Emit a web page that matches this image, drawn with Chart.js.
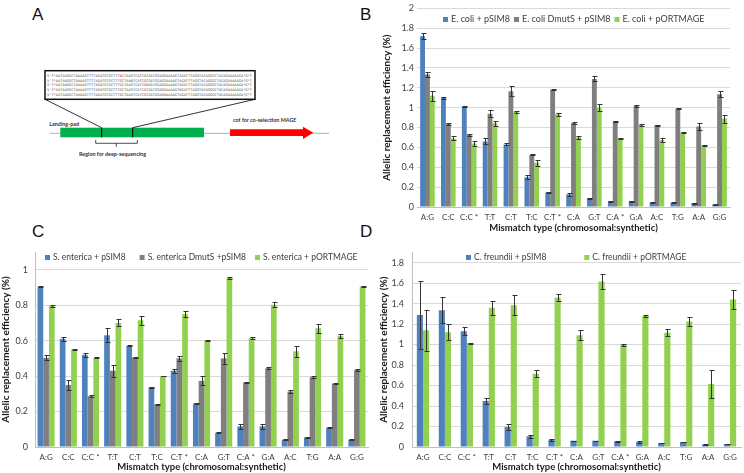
<!DOCTYPE html>
<html>
<head>
<meta charset="utf-8">
<script src="https://cdn.jsdelivr.net/npm/chart.js@4.4.1/dist/chart.umd.min.js"></script>
<style>
  html, body { margin: 0; padding: 0; background: #fff; }
  body { width: 744px; height: 473px; position: relative; overflow: hidden; }
  #art { position: absolute; left: 0; top: 0; }
  canvas { position: absolute; }
</style>
</head>
<body>
<svg id="art" width="744" height="473" xmlns="http://www.w3.org/2000/svg"></svg>
<canvas id="chartB" width="372" height="234" style="left:372px;top:0"></canvas>
<canvas id="chartC" width="372" height="234" style="left:0;top:239px"></canvas>
<canvas id="chartD" width="372" height="234" style="left:372px;top:239px"></canvas>
<script>
const categories = ['A:G', 'C:C', 'C:C *', 'T:T', 'C:T', 'T:C', 'C:T *', 'C:A', 'G:T', 'C:A *', 'G:A', 'A:C', 'T:G', 'A:A', 'G:G'];

// B - E. coli
const ecoliPsim8    = [1.72, 1.10, 1.01, 0.66, 0.63, 0.30, 0.145, 0.125, 0.085, 0.057, 0.058, 0.043, 0.043, 0.04, 0.026];
const ecoliPsim8Err = [0.03, 0.01, 0.005, 0.03, 0.01, 0.02, 0.005, 0.015, 0.005, 0.005, 0.005, 0.003, 0.003, 0.005, 0.005];
const ecoliMutS     = [1.335, 0.835, 0.73, 0.94, 1.165, 0.525, 1.18, 0.845, 1.29, 0.86, 1.02, 0.825, 0.99, 0.81, 1.135];
const ecoliMutSErr  = [0.025, 0.01, 0.01, 0.035, 0.05, 0.005, 0.005, 0.01, 0.025, 0.005, 0.01, 0.005, 0.003, 0.035, 0.03];
const ecoliPort     = [1.12, 0.69, 0.64, 0.845, 0.96, 0.445, 0.935, 0.70, 1.00, 0.69, 0.825, 0.675, 0.75, 0.62, 0.89];
const ecoliPortErr  = [0.05, 0.02, 0.025, 0.025, 0.01, 0.03, 0.015, 0.02, 0.035, 0.005, 0.01, 0.02, 0.005, 0.005, 0.04];

// C - S. enterica
const entPsim8    = [0.904, 0.61, 0.52, 0.63, 0.57, 0.336, 0.43, 0.245, 0.08, 0.116, 0.116, 0.041, 0.054, 0.109, 0.041];
const entPsim8Err = [0.003, 0.01, 0.01, 0.04, 0.003, 0.005, 0.01, 0.005, 0.003, 0.012, 0.012, 0.003, 0.005, 0.003, 0.003];
const entMutS     = [0.503, 0.35, 0.287, 0.43, 0.505, 0.24, 0.50, 0.373, 0.50, 0.364, 0.445, 0.313, 0.394, 0.358, 0.435];
const entMutSErr  = [0.015, 0.03, 0.005, 0.035, 0.005, 0.003, 0.015, 0.025, 0.03, 0.004, 0.005, 0.008, 0.005, 0.003, 0.005];
const entPort     = [0.795, 0.55, 0.503, 0.70, 0.715, 0.40, 0.75, 0.60, 0.955, 0.614, 0.803, 0.54, 0.67, 0.627, 0.906];
const entPortErr  = [0.005, 0.002, 0.002, 0.02, 0.025, 0.002, 0.015, 0.002, 0.005, 0.005, 0.015, 0.03, 0.025, 0.01, 0.003];

// D - C. freundii
const freuPsim8    = [1.29, 1.335, 1.13, 0.45, 0.195, 0.105, 0.07, 0.06, 0.06, 0.057, 0.05, 0.04, 0.048, 0.025, 0.03];
const freuPsim8Err = [0.33, 0.125, 0.04, 0.03, 0.025, 0.015, 0.01, 0.003, 0.003, 0.005, 0.012, 0.003, 0.004, 0.005, 0.003];
const freuPort     = [1.14, 1.12, 1.015, 1.36, 1.385, 0.715, 1.46, 1.09, 1.615, 1.00, 1.28, 1.115, 1.225, 0.615, 1.44];
const freuPortErr  = [0.2, 0.08, 0.005, 0.07, 0.1, 0.035, 0.035, 0.05, 0.075, 0.01, 0.01, 0.035, 0.045, 0.135, 0.09];

const blue = '#4f81bd', gray = '#7f7f7f', green = '#92d050';
const fontFamily = "Lato, 'Open Sans', sans-serif";

Chart.defaults.font.family = fontFamily;

// error bars drawn from the dataset's "errors" array through the y scale
const errorBars = {
  id: 'errorBars',
  afterDatasetsDraw(chart) {
    const ctx = chart.ctx, y = chart.scales.y;
    ctx.save();
    ctx.strokeStyle = '#333';
    ctx.lineWidth = 1;
    chart.data.datasets.forEach((ds, i) => {
      if (!ds.errors) return;
      chart.getDatasetMeta(i).data.forEach((bar, j) => {
        const v = ds.data[j], e = ds.errors[j];
        const x = Math.round(bar.x) + 0.5;
        const top = Math.round(y.getPixelForValue(v + e)) + 0.5;
        const bot = Math.round(y.getPixelForValue(v - e)) + 0.5;
        ctx.beginPath();
        ctx.moveTo(x, top); ctx.lineTo(x, bot);
        ctx.moveTo(x - 2, top); ctx.lineTo(x + 3, top);
        ctx.moveTo(x - 2, bot); ctx.lineTo(x + 3, bot);
        ctx.stroke();
      });
    });
    ctx.restore();
  }
};

// one-row legend laid over the top of the plot area, like the Excel original
const insideLegend = {
  id: 'insideLegend',
  afterDraw(chart, args, opts) {
    const ctx = chart.ctx, area = chart.chartArea, sets = chart.data.datasets;
    ctx.save();
    ctx.font = opts.size + 'px ' + fontFamily;
    ctx.textBaseline = 'middle';
    const widths = sets.map(d => 8 + ctx.measureText(d.label).width);
    let total = 0;
    widths.forEach((w, i) => { total += w + (i < sets.length - 1 ? opts.gaps[i] : 0); });
    let x = Math.round((area.left + area.right - total) / 2);
    const y = Math.round(area.top + opts.offset);
    sets.forEach((d, i) => {
      ctx.fillStyle = d.backgroundColor;
      ctx.fillRect(x, y - 2, 5, 5);
      ctx.fillStyle = '#404040';
      ctx.fillText(d.label, x + 8, y + 0.5);
      x += widths[i] + (opts.gaps[i] || 0);
    });
    ctx.restore();
  }
};

const onStep = v => Math.abs(v / 0.2 - Math.round(v / 0.2)) < 1e-6;

function barChart(id, sets, o) {
  return new Chart(document.getElementById(id), {
    type: 'bar',
    data: {
      labels: categories,
      datasets: sets.map(s => ({
        label: s.label, data: s.data, errors: s.err, backgroundColor: s.color,
        categoryPercentage: o.cat, barPercentage: 1
      }))
    },
    options: {
      responsive: false,
      animation: false,
      layout: { padding: o.pad },
      plugins: {
        tooltip: { enabled: false },
        legend: { display: false },
        insideLegend: { gaps: o.gaps, offset: o.legendOffset, size: o.legendSize }
      },
      scales: {
        x: {
          grid: { display: false, drawTicks: false },
          border: { display: true, color: '#bfbfbf' },
          ticks: { autoSkip: false, maxRotation: 0, padding: 6, color: '#404040', font: { size: 8 } },
          title: { display: true, text: 'Mismatch type (chromosomal:synthetic)', color: '#1a1a1a',
                   font: { size: 9.5, weight: 'bold' }, padding: 0 },
          afterFit: s => { s.height = o.xH; }
        },
        y: {
          min: 0, max: o.max,
          ticks: { stepSize: 0.2, padding: o.yTickPad, color: '#404040', font: { size: 9 },
                   callback: v => onStep(v) ? String(+v.toFixed(1)) : '' },
          grid: { drawTicks: false, color: c => onStep(c.tick.value) ? '#d9d9d9' : 'rgba(0,0,0,0)' },
          border: { display: o.yBorder, color: '#bfbfbf' },
          title: { display: true, text: 'Allelic replacement efficiency (%)', color: '#1a1a1a',
                   font: { size: 10, weight: 'bold' }, padding: { top: o.yTitlePad, bottom: 0 } },
          afterFit: s => { s.width = o.yW; }
        }
      }
    },
    plugins: [errorBars, insideLegend]
  });
}

barChart('chartB', [
  { label: 'E. coli + pSIM8', data: ecoliPsim8, err: ecoliPsim8Err, color: blue },
  { label: 'E. coli DmutS + pSIM8', data: ecoliMutS, err: ecoliMutSErr, color: gray },
  { label: 'E. coli + pORTMAGE', data: ecoliPort, err: ecoliPortErr, color: green }
], { pad: { top: 4, right: 14, left: 0, bottom: 0 }, gaps: [4, 4], legendOffset: 10.5, legendSize: 9,
     max: 2, xH: 27, yW: 45, yTickPad: 3, yTitlePad: 9, cat: 0.7, yBorder: false });

barChart('chartC', [
  { label: 'S. enterica + pSIM8', data: entPsim8, err: entPsim8Err, color: blue },
  { label: 'S. enterica DmutS +pSIM8', data: entMutS, err: entMutSErr, color: gray },
  { label: 'S. enterica + pORTMAGE', data: entPort, err: entPortErr, color: green }
], { pad: { top: 13, right: 4, left: 0, bottom: 0 }, gaps: [14, 9], legendOffset: 5, legendSize: 8.5,
     max: 1.1, xH: 26, yW: 35, yTickPad: 7, yTitlePad: 0, cat: 0.77, yBorder: true });

barChart('chartD', [
  { label: 'C. freundii + pSIM8', data: freuPsim8, err: freuPsim8Err, color: blue },
  { label: 'C. freundii + pORTMAGE', data: freuPort, err: freuPortErr, color: green }
], { pad: { top: 13, right: 3, left: 0, bottom: 0 }, gaps: [38], legendOffset: 5, legendSize: 8.5,
     max: 1.9, xH: 26, yW: 40, yTickPad: 8, yTitlePad: 6, cat: 0.56, yBorder: true });

// panel A diagram and panel letters
const svg = document.getElementById('art');
const NS = 'http://www.w3.org/2000/svg';
function el(tag, attrs, text) {
  const e = document.createElementNS(NS, tag);
  for (const k in attrs) e.setAttribute(k, attrs[k]);
  if (text != null) e.textContent = text;
  svg.appendChild(e);
  return e;
}
const letterFont = { 'font-family': "'Liberation Sans', Arial, sans-serif", 'font-size': 17, fill: '#111' };
el('text', { x: 32, y: 20, ...letterFont }, 'A');
el('text', { x: 360, y: 20, ...letterFont }, 'B');
el('text', { x: 32, y: 237, ...letterFont }, 'C');
el('text', { x: 360, y: 237, ...letterFont }, 'D');

el('line', { x1: 50, y1: 133.3, x2: 329, y2: 133.3, stroke: '#9fb4d4', 'stroke-width': 1 });
el('rect', { x: 60.3, y: 127.7, width: 143.7, height: 9.6, fill: '#00b050' });
el('line', { x1: 101.7, y1: 127.7, x2: 101.7, y2: 137.3, stroke: '#000', 'stroke-width': 1 });
el('line', { x1: 132.7, y1: 127.7, x2: 132.7, y2: 137.3, stroke: '#000', 'stroke-width': 1 });
el('line', { x1: 45, y1: 99.3, x2: 101.7, y2: 127.7, stroke: '#000', 'stroke-width': 0.8 });
el('line', { x1: 255, y1: 99.3, x2: 132.7, y2: 127.7, stroke: '#000', 'stroke-width': 0.8 });
el('path', { d: 'M95.7 140 V143.3 H137.3 V140 M116.3 143.3 V146.7', fill: 'none', stroke: '#222', 'stroke-width': 0.8 });
el('path', { d: 'M230 129.3 H303 V126.7 L313.3 132.8 L303 139 V136 H230 Z', fill: '#ff0000' });

const smallBold = { 'font-family': fontFamily, 'font-size': 5.4, 'font-weight': 'bold', fill: '#333' };
el('text', { x: 49.3, y: 125.5, ...smallBold }, 'Landing-pad');
el('text', { x: 233, y: 122, ...smallBold }, 'cot for co-selection MAGE');
el('text', { x: 79, y: 155.5, ...smallBold }, 'Region for deep-sequencing');

el('rect', { x: 45, y: 70.7, width: 210, height: 28.6, fill: '#fff', stroke: '#111', 'stroke-width': 1.5 });
const seq = "5'T*AATAAGGCTAAAAGTTTTAGATGTGCTTTGCTAAGTCATCGCGATGGAGGAAAAGTAGATTTAGGTACAGGGCTACAGAAAAAGA*G*T";
[33, 38, 45, 60, 53].forEach((p, k) => {
  const t = el('text', { x: 47, y: 76.6 + k * 4.9, 'font-family': "'DejaVu Sans Mono', monospace", 'font-size': 3.6,
                         fill: '#555', textLength: 205, lengthAdjust: 'spacingAndGlyphs' });
  [seq.slice(0, p), 'N', seq.slice(p + 1)].forEach((s, m) => {
    const ts = document.createElementNS(NS, 'tspan');
    if (m === 1) ts.setAttribute('fill', '#e02020');
    ts.textContent = s;
    t.appendChild(ts);
  });
});
</script>
</body>
</html>
